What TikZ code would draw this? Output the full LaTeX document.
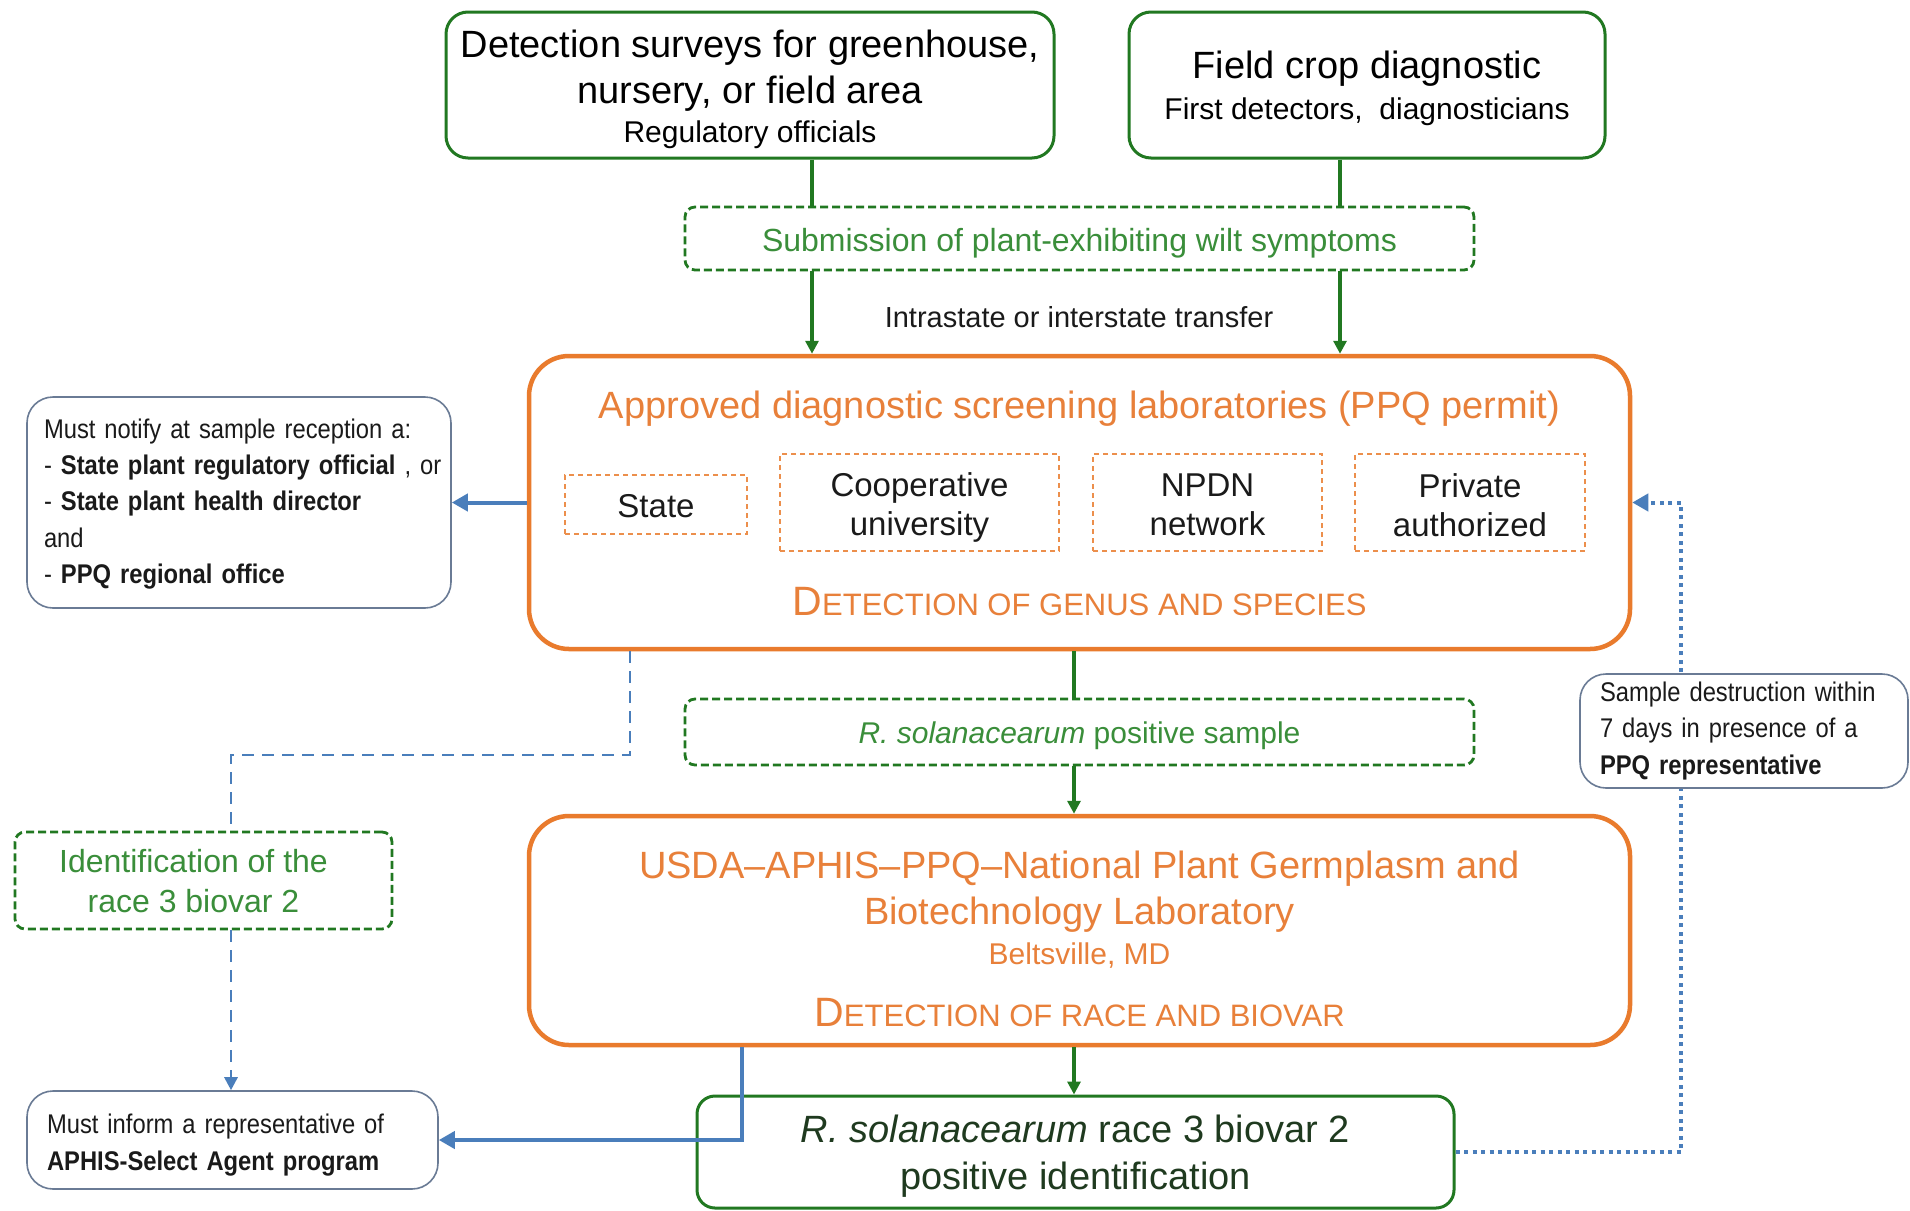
\documentclass[tikz,border=0pt]{standalone}
\usepackage{fontspec}
\setmainfont{Liberation Sans}
\newfontfamily\narrowfont{Liberation Sans}[FakeStretch=0.88,WordSpace=0.8]
\usetikzlibrary{arrows.meta}
\pgfdeclarelayer{background}
\pgfsetlayers{background,main}
\definecolor{dkgreen}{HTML}{217821}
\definecolor{txgreen}{HTML}{3A8E3A}
\definecolor{orng}{HTML}{E97B2D}
\definecolor{orngtx}{HTML}{E8803A}
\definecolor{bluel}{HTML}{4A7EBB}
\definecolor{bgray}{HTML}{6A7B95}
\definecolor{rtext}{HTML}{1F3A1F}
\definecolor{dtext}{HTML}{1A1A1A}
\newcommand\bigsc[1]{{\fontsize{41}{46}\selectfont #1}}
\newcommand\smsc[1]{{\fontsize{31}{46}\selectfont #1}}
\begin{document}
\begin{tikzpicture}[x=1pt,y=-1pt,
  every node/.style={inner sep=0pt, align=center},
  gbox/.style={draw=dkgreen, line width=3pt, rounded corners=22pt, fill=white},
  gdash/.style={draw=dkgreen, line width=2.8pt, dash pattern=on 8pt off 4pt, rounded corners=10pt},
  obox/.style={draw=orng, line width=4.5pt, rounded corners=40pt},
  odash/.style={draw=orng!85!white, line width=1.6pt, dash pattern=on 5pt off 4pt},
  nbox/.style={draw=bgray, line width=1.6pt, rounded corners=26pt, fill=white},
  gline/.style={draw=dkgreen, line width=3.2pt},
  garrow/.style={gline, -{Triangle[width=13pt,length=13pt]}},
  barrow/.style={draw=bluel, line width=4pt, -{Triangle[width=17pt,length=16pt]}},
  bdash/.style={draw=bluel, line width=2.8pt, dash pattern=on 12pt off 8pt},
  bdot/.style={draw=bluel, line width=4pt, dash pattern=on 4pt off 4.5pt},
  notefont/.style={font=\narrowfont\fontsize{27}{36.3}\selectfont, text=dtext},
  labtext/.style={text=dtext, font=\fontsize{33}{39}\selectfont}
]
\begin{pgfonlayer}{background}
\fill[white] (0,0) rectangle (1910,1210);
\end{pgfonlayer}
\useasboundingbox (0,0) rectangle (1910,1210);

\coordinate (cl) at (812,0);
\coordinate (cr) at (1340,0);
\coordinate (cm) at (1074,0);
\coordinate (cd) at (630,0);
\coordinate (jd) at (0,755);
\coordinate (cx) at (231,0);
\coordinate (cu) at (742,0);
\coordinate (cdt) at (1681,0);

% top boxes
\node[gbox, minimum width=608pt, minimum height=146pt] (surv) at (750,85) {};
\node[font=\fontsize{38}{46}\selectfont] (survt) at (750,89)
  {Detection surveys for greenhouse,\\ nursery, or field area\\[-7pt]{\fontsize{30}{36}\selectfont Regulatory officials}};
\node[gbox, minimum width=476pt, minimum height=146pt] (field) at (1367,85) {};
\node[font=\fontsize{38}{46}\selectfont] (fieldt) at (1367,88)
  {Field crop diagnostic\\[-5pt]{\fontsize{30}{36}\selectfont First detectors,\ \ diagnosticians}};

\node[gdash, minimum width=789pt, minimum height=63pt] (subm) at (1079.5,238.5) {};
\node[text=txgreen, font=\fontsize{32}{38}\selectfont] (submt) at (1079.5,243.5)
  {Submission of plant-exhibiting wilt symptoms};
\node[font=\fontsize{29}{34}\selectfont, text=dtext] (xfer) at (1079,317) {Intrastate or interstate transfer};

% screening labs
\node[obox, minimum width=1101pt, minimum height=293pt] (labs) at (1079.5,502.5) {};
\node[text=orngtx, font=\fontsize{38}{44}\selectfont] (labt) at (1079.5,409) {Approved diagnostic screening laboratories (PPQ permit)};
\node[odash, minimum width=182pt, minimum height=59pt] (state) at (656,504.5) {};
\node[labtext] (statet) at (656,506) {State};
\node[odash, minimum width=279pt, minimum height=97pt] (coop) at (919.5,502.5) {};
\node[labtext] (coopt) at (919.5,507.5) {Cooperative\\university};
\node[odash, minimum width=229pt, minimum height=97pt] (npdn) at (1207.5,502.5) {};
\node[labtext] (npdnt) at (1207.5,505) {NPDN\\network};
\node[odash, minimum width=230pt, minimum height=97pt] (priv) at (1470,502.5) {};
\node[labtext] (privt) at (1470,505) {Private\\authorized};
\node[text=orngtx] (gs) at (1079.5,602) {\bigsc{D}\smsc{ETECTION OF GENUS AND SPECIES}};

% notify box
\node[nbox, minimum width=424pt, minimum height=211pt] (notif) at (239,502.5) {};
\node[text width=410pt, align=left, notefont] (notift) at (249,504)
  {Must notify at sample reception a:\\
   - \textbf{State plant regulatory official} , or\\
   - \textbf{State plant health director}\\
   and\\
   - \textbf{PPQ regional office}};

% positive sample
\node[gdash, minimum width=789pt, minimum height=66pt] (pos) at (1079.5,732) {};
\node[text=txgreen, font=\fontsize{30}{36}\selectfont] (post) at (1079.5,736)
  {\textit{R. solanacearum} positive sample};

% USDA
\node[obox, minimum width=1101pt, minimum height=229pt] (usda) at (1079.5,930.5) {};
\node[text=orngtx, font=\fontsize{38}{46}\selectfont] (usdat) at (1079.5,910)
  {USDA--APHIS--PPQ--National Plant Germplasm and\\ Biotechnology Laboratory\\[-6pt]{\fontsize{30}{36}\selectfont Beltsville, MD}};
\node[text=orngtx] (rb) at (1079.5,1013) {\bigsc{D}\smsc{ETECTION OF RACE AND BIOVAR}};

% bottom
\node[gbox, minimum width=757pt, minimum height=112pt, rounded corners=18pt] (rpos) at (1075.5,1152) {};
\node[text=rtext, font=\fontsize{38}{47}\selectfont] (rpost) at (1075.5,1156)
  {\textit{R. solanacearum} race 3 biovar 2\\ positive identification};

\node[gdash, minimum width=377pt, minimum height=97pt] (ident) at (203.5,880.5) {};
\node[text=txgreen, font=\fontsize{32}{40}\selectfont] (identt) at (193.5,881.5)
  {Identification of the\\ race 3 biovar 2};

\node[nbox, minimum width=411pt, minimum height=98pt] (inf) at (232.5,1140) {};
\node[text width=371pt, align=left, notefont] (inft) at (232.5,1145)
  {Must inform a representative of\\ \textbf{APHIS-Select Agent program}};

\node[nbox, minimum width=328pt, minimum height=114pt] (destr) at (1744,731) {};
\node[text width=288pt, align=left, notefont] (destrt) at (1744,731)
  {Sample destruction within\\ 7 days in presence of a\\ \textbf{PPQ representative}};

% connectors
\draw[gline] (surv.south -| cl) -- (subm.north -| cl);
\draw[gline] (field.south -| cr) -- (subm.north -| cr);
\draw[garrow] (subm.south -| cl) -- (labs.north -| cl);
\draw[garrow] (subm.south -| cr) -- (labs.north -| cr);
\draw[barrow] (labs.west) -- (notif.east);
\draw[gline] (labs.south -| cm) -- (pos.north -| cm);
\draw[garrow] (pos.south -| cm) -- (usda.north -| cm);
\draw[garrow] (usda.south -| cm) -- (rpos.north -| cm);
\draw[bdash] (labs.south -| cd) -- (cd |- jd) -- (cx |- jd) -- (ident.north -| cx);
\draw[bdash, -{Triangle[width=13pt,length=13pt]}] (ident.south -| cx) -- (inf.north -| cx);
\draw[barrow] (usda.south -| cu) |- (inf.east);
\begin{pgfonlayer}{background}
\draw[bdot, -{Triangle[width=17pt,length=16pt]}] (rpos.east) -| (cdt |- labs.east) -- (labs.east);
\end{pgfonlayer}
\end{tikzpicture}
\end{document}
